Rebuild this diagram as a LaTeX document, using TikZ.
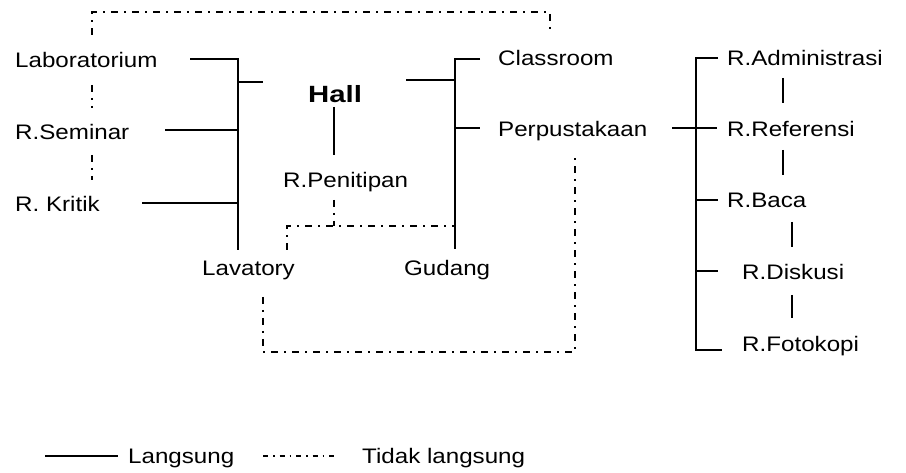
\documentclass[tikz,border=0pt]{standalone}
\usepackage{fontspec}
\setmainfont{Liberation Sans}[FakeStretch=1.15]
\newfontfamily\hallfont{Liberation Sans}[FakeStretch=1.25]
\begin{document}
\begin{tikzpicture}[x=1pt,y=-1pt,
  lbl/.style={inner sep=0pt, anchor=base west, font=\fontsize{21}{25}\selectfont},
  hallstyle/.style={inner sep=0pt, anchor=base west, font=\hallfont\fontsize{23.5}{28}\selectfont\bfseries},
  direct/.style={line width=1.4pt, line cap=butt},
  indirect/.style={line width=1.8pt, dash pattern=on 7pt off 6pt on 2pt off 6pt}]
\useasboundingbox (0,0) rectangle (906,473);
% labels
\node[lbl] (lab) at (15,68) {Laboratorium};
\node[lbl] (sem) at (15,140) {R.Seminar};
\node[lbl] (kri) at (15,212) {R. Kritik};
\node[hallstyle] (hall) at (308,103) {Hall};
\node[lbl] (pen) at (283,188) {R.Penitipan};
\node[lbl] (lav) at (202,276) {Lavatory};
\node[lbl] (gud) at (404,276) {Gudang};
\node[lbl] (cls) at (498,66) {Classroom};
\node[lbl] (per) at (498,137) {Perpustakaan};
\node[lbl] (adm) at (727,66) {R.Administrasi};
\node[lbl] (ref) at (727,137) {R.Referensi};
\node[lbl] (bac) at (727,208) {R.Baca};
\node[lbl] (dis) at (742,280) {R.Diskusi};
\node[lbl] (fot) at (742,352) {R.Fotokopi};
\node[lbl] (leg1) at (128,463) {Langsung};
\node[lbl] (leg2) at (362,463) {Tidak langsung};
% junction coordinates
\coordinate (labR) at (190,59);
\coordinate (LT) at (238,59);
\coordinate (LB) at (238,250);
\coordinate (semR) at (165,130);
\coordinate (semJ) at (238,130);
\coordinate (kriR) at (142,203);
\coordinate (kriJ) at (238,203);
\coordinate (hallJL) at (238,82);
\coordinate (hallL) at (263,82);
\coordinate (hallB) at (334,107);
\coordinate (penT) at (334,155);
\coordinate (hallR) at (406,80);
\coordinate (RJh) at (455,80);
\coordinate (RT) at (455,59);
\coordinate (RB) at (455,249);
\coordinate (clsL) at (480,59);
\coordinate (perJ) at (455,128);
\coordinate (perL) at (480,128);
\coordinate (perR) at (672,128);
\coordinate (refL) at (717,128);
\coordinate (CT) at (696,58);
\coordinate (CB) at (696,350);
\coordinate (admL) at (718,58);
\coordinate (bacJ) at (696,200);
\coordinate (bacL) at (718,200);
\coordinate (disJ) at (696,271);
\coordinate (disL) at (718,271);
\coordinate (fotL) at (722,350);
% solid connectors
\draw[direct] (labR) -- (LT) -- (LB);
\draw[direct] (semR) -- (semJ);
\draw[direct] (kriR) -- (kriJ);
\draw[direct] (hallJL) -- (hallL);
\draw[direct] (hallB) -- (penT);
\draw[direct] (hallR) -- (RJh);
\draw[direct] (clsL) -- (RT) -- (RB);
\draw[direct] (perJ) -- (perL);
\draw[direct] (perR) -- (refL);
\draw[direct] (admL) -- (CT) -- (CB) -- (fotL);
\draw[direct] (bacJ) -- (bacL);
\draw[direct] (disJ) -- (disL);
\draw[direct] (783,78) -- (783,103);
\draw[direct] (783,150) -- (783,175);
\draw[direct] (792,222) -- (792,247);
\draw[direct] (792,295) -- (792,318);
% indirect connectors
\coordinate (lab1) at (92,35);
\coordinate (topL) at (92,12);
\coordinate (topR) at (550,12);
\coordinate (cls1) at (550,33);
\draw[indirect] (lab1) -- (topL) -- (topR) -- (cls1);
\draw[indirect] (92,85) -- (92,108);
\draw[indirect] (92,155) -- (92,180);
\coordinate (pen1) at (334,200);
\coordinate (pen2) at (334,226);
\coordinate (lav1) at (287,250);
\coordinate (lavC) at (287,226);
\coordinate (gudJ) at (455,226);
\draw[indirect] (pen1) -- (pen2);
\draw[indirect] (lav1) -- (lavC) -- (gudJ);
\coordinate (lav2) at (263,297);
\coordinate (botL) at (263,352);
\coordinate (botR) at (575,352);
\coordinate (per1) at (575,155);
\draw[indirect] (lav2) -- (botL) -- (botR) -- (per1);
% legend
\coordinate (l1a) at (45,456);
\coordinate (l1b) at (118,456);
\coordinate (l2a) at (263,456);
\coordinate (l2b) at (337,456);
\draw[direct] (l1a) -- (l1b);
\draw[indirect, line width=1.4pt, dash pattern=on 5pt off 5pt on 1.5pt off 5pt] (l2a) -- (l2b);
\end{tikzpicture}
\end{document}
